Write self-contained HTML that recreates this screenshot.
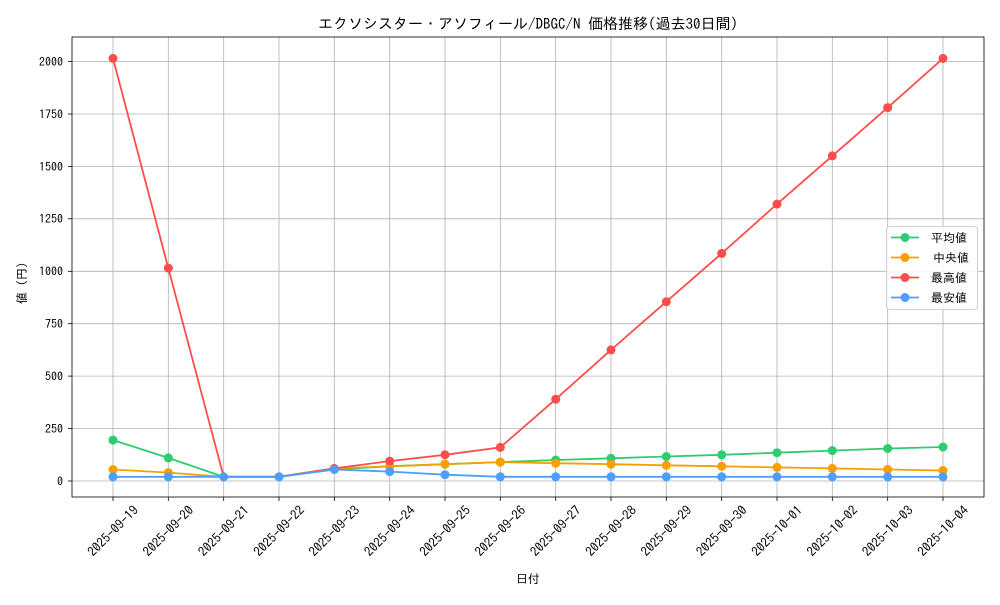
<!DOCTYPE html><html><head><meta charset="utf-8"><style>body{margin:0;background:#fff}svg{font-family:"IPAGothic","Noto Sans CJK JP",sans-serif}</style></head><body>
<svg width="1000" height="600" xmlns="http://www.w3.org/2000/svg">
<rect width="1000" height="600" fill="#fff"/>
<text x="528" y="29" font-size="15" text-anchor="middle">エクソシスター・アソフィール/DBGC/N 価格推移(過去30日間)</text>
<g stroke="#b0b0b0" stroke-width="0.8">
<line x1="113" y1="37" x2="113" y2="497"/><line x1="168.3" y1="37" x2="168.3" y2="497"/><line x1="223.7" y1="37" x2="223.7" y2="497"/><line x1="279" y1="37" x2="279" y2="497"/><line x1="334.3" y1="37" x2="334.3" y2="497"/><line x1="389.7" y1="37" x2="389.7" y2="497"/><line x1="445" y1="37" x2="445" y2="497"/><line x1="500.3" y1="37" x2="500.3" y2="497"/><line x1="555.7" y1="37" x2="555.7" y2="497"/><line x1="611" y1="37" x2="611" y2="497"/><line x1="666.3" y1="37" x2="666.3" y2="497"/><line x1="721.7" y1="37" x2="721.7" y2="497"/><line x1="777" y1="37" x2="777" y2="497"/><line x1="832.3" y1="37" x2="832.3" y2="497"/><line x1="887.7" y1="37" x2="887.7" y2="497"/><line x1="943" y1="37" x2="943" y2="497"/>
<line x1="72" y1="481" x2="984" y2="481"/><line x1="72" y1="428.6" x2="984" y2="428.6"/><line x1="72" y1="376.1" x2="984" y2="376.1"/><line x1="72" y1="323.7" x2="984" y2="323.7"/><line x1="72" y1="271.3" x2="984" y2="271.3"/><line x1="72" y1="218.8" x2="984" y2="218.8"/><line x1="72" y1="166.4" x2="984" y2="166.4"/><line x1="72" y1="114" x2="984" y2="114"/><line x1="72" y1="61.5" x2="984" y2="61.5"/>
</g>
<rect x="72" y="37" width="912" height="460" fill="none" stroke="#000" stroke-width="0.8"/>
<g font-size="12" text-anchor="end">
<text x="63" y="485.5">0</text><text x="63" y="433">250</text><text x="63" y="380.5">500</text><text x="63" y="328">750</text><text x="63" y="275.7">1000</text><text x="63" y="223.2">1250</text><text x="63" y="170.8">1500</text><text x="63" y="118.4">1750</text><text x="63" y="66">2000</text>
</g>
<g stroke="#000" stroke-width="0.8">
<line x1="68" y1="481" x2="72" y2="481"/><line x1="68" y1="428.6" x2="72" y2="428.6"/><line x1="68" y1="376.1" x2="72" y2="376.1"/><line x1="68" y1="323.7" x2="72" y2="323.7"/><line x1="68" y1="271.3" x2="72" y2="271.3"/><line x1="68" y1="218.8" x2="72" y2="218.8"/><line x1="68" y1="166.4" x2="72" y2="166.4"/><line x1="68" y1="114" x2="72" y2="114"/><line x1="68" y1="61.5" x2="72" y2="61.5"/>
<line x1="113" y1="497" x2="113" y2="501"/><line x1="168.3" y1="497" x2="168.3" y2="501"/><line x1="223.7" y1="497" x2="223.7" y2="501"/><line x1="279" y1="497" x2="279" y2="501"/><line x1="334.3" y1="497" x2="334.3" y2="501"/><line x1="389.7" y1="497" x2="389.7" y2="501"/><line x1="445" y1="497" x2="445" y2="501"/><line x1="500.3" y1="497" x2="500.3" y2="501"/><line x1="555.7" y1="497" x2="555.7" y2="501"/><line x1="611" y1="497" x2="611" y2="501"/><line x1="666.3" y1="497" x2="666.3" y2="501"/><line x1="721.7" y1="497" x2="721.7" y2="501"/><line x1="777" y1="497" x2="777" y2="501"/><line x1="832.3" y1="497" x2="832.3" y2="501"/><line x1="887.7" y1="497" x2="887.7" y2="501"/><line x1="943" y1="497" x2="943" y2="501"/>
</g>
<g font-size="13" text-anchor="middle" dominant-baseline="central">
<text transform="translate(113,531) rotate(-45)">2025-09-19</text>
<text transform="translate(168.3,531) rotate(-45)">2025-09-20</text>
<text transform="translate(223.7,531) rotate(-45)">2025-09-21</text>
<text transform="translate(279,531) rotate(-45)">2025-09-22</text>
<text transform="translate(334.3,531) rotate(-45)">2025-09-23</text>
<text transform="translate(389.7,531) rotate(-45)">2025-09-24</text>
<text transform="translate(445,531) rotate(-45)">2025-09-25</text>
<text transform="translate(500.3,531) rotate(-45)">2025-09-26</text>
<text transform="translate(555.7,531) rotate(-45)">2025-09-27</text>
<text transform="translate(611,531) rotate(-45)">2025-09-28</text>
<text transform="translate(666.3,531) rotate(-45)">2025-09-29</text>
<text transform="translate(721.7,531) rotate(-45)">2025-09-30</text>
<text transform="translate(777,531) rotate(-45)">2025-10-01</text>
<text transform="translate(832.3,531) rotate(-45)">2025-10-02</text>
<text transform="translate(887.7,531) rotate(-45)">2025-10-03</text>
<text transform="translate(943,531) rotate(-45)">2025-10-04</text>
</g>
<text x="528" y="583" font-size="12" text-anchor="middle">日付</text>
<text transform="translate(26,283) rotate(-90)" font-size="12" text-anchor="middle">値 (円)</text>
<g fill="none" stroke-width="1.8">
<polyline stroke="#2ecc71" points="113,440.1 168.3,457.9 223.7,476.8 279,476.8 334.3,469.5 389.7,466.3 445,464.2 500.3,462.1 555.7,460 611,458.3 666.3,456.5 721.7,454.8 777,452.7 832.3,450.6 887.7,448.5 943,447"/>
<polyline stroke="#f5a000" points="113,469.5 168.3,472.6 223.7,476.8 279,476.8 334.3,468.4 389.7,466.3 445,464.2 500.3,462.1 555.7,463.2 611,464.2 666.3,465.3 721.7,466.3 777,467.4 832.3,468.4 887.7,469.5 943,470.5"/>
<polyline stroke="#ff4d4d" points="113,58.4 168.3,268.1 223.7,476.8 279,476.8 334.3,468.4 389.7,461.1 445,454.8 500.3,447.4 555.7,399.2 611,349.9 666.3,301.7 721.7,253.4 777,204.1 832.3,155.9 887.7,107.6 943,58.4"/>
<polyline stroke="#4d9eff" points="113,476.8 168.3,476.8 223.7,476.8 279,476.8 334.3,469.5 389.7,471.6 445,474.7 500.3,476.8 555.7,476.8 611,476.8 666.3,476.8 721.7,476.8 777,476.8 832.3,476.8 887.7,476.8 943,476.8"/>
</g>
<g fill="#2ecc71"><circle cx="113" cy="440.1" r="4.5"/><circle cx="168.3" cy="457.9" r="4.5"/><circle cx="389.7" cy="466.3" r="4.5"/><circle cx="445" cy="464.2" r="4.5"/><circle cx="500.3" cy="462.1" r="4.5"/><circle cx="555.7" cy="460" r="4.5"/><circle cx="611" cy="458.3" r="4.5"/><circle cx="666.3" cy="456.5" r="4.5"/><circle cx="721.7" cy="454.8" r="4.5"/><circle cx="777" cy="452.7" r="4.5"/><circle cx="832.3" cy="450.6" r="4.5"/><circle cx="887.7" cy="448.5" r="4.5"/><circle cx="943" cy="447" r="4.5"/></g>
<g fill="#f5a000"><circle cx="113" cy="469.5" r="4.5"/><circle cx="168.3" cy="472.6" r="4.5"/><circle cx="389.7" cy="466.3" r="4.5"/><circle cx="445" cy="464.2" r="4.5"/><circle cx="500.3" cy="462.1" r="4.5"/><circle cx="555.7" cy="463.2" r="4.5"/><circle cx="611" cy="464.2" r="4.5"/><circle cx="666.3" cy="465.3" r="4.5"/><circle cx="721.7" cy="466.3" r="4.5"/><circle cx="777" cy="467.4" r="4.5"/><circle cx="832.3" cy="468.4" r="4.5"/><circle cx="887.7" cy="469.5" r="4.5"/><circle cx="943" cy="470.5" r="4.5"/></g>
<g fill="#ff4d4d"><circle cx="113" cy="58.4" r="4.5"/><circle cx="168.3" cy="268.1" r="4.5"/><circle cx="334.3" cy="468.4" r="4.5"/><circle cx="389.7" cy="461.1" r="4.5"/><circle cx="445" cy="454.8" r="4.5"/><circle cx="500.3" cy="447.4" r="4.5"/><circle cx="555.7" cy="399.2" r="4.5"/><circle cx="611" cy="349.9" r="4.5"/><circle cx="666.3" cy="301.7" r="4.5"/><circle cx="721.7" cy="253.4" r="4.5"/><circle cx="777" cy="204.1" r="4.5"/><circle cx="832.3" cy="155.9" r="4.5"/><circle cx="887.7" cy="107.6" r="4.5"/><circle cx="943" cy="58.4" r="4.5"/></g>
<g fill="#4d9eff"><circle cx="113" cy="476.8" r="4.5"/><circle cx="168.3" cy="476.8" r="4.5"/><circle cx="223.7" cy="476.8" r="4.5"/><circle cx="279" cy="476.8" r="4.5"/><circle cx="334.3" cy="469.5" r="4.5"/><circle cx="389.7" cy="471.6" r="4.5"/><circle cx="445" cy="474.7" r="4.5"/><circle cx="500.3" cy="476.8" r="4.5"/><circle cx="555.7" cy="476.8" r="4.5"/><circle cx="611" cy="476.8" r="4.5"/><circle cx="666.3" cy="476.8" r="4.5"/><circle cx="721.7" cy="476.8" r="4.5"/><circle cx="777" cy="476.8" r="4.5"/><circle cx="832.3" cy="476.8" r="4.5"/><circle cx="887.7" cy="476.8" r="4.5"/><circle cx="943" cy="476.8" r="4.5"/></g>
<rect x="886.5" y="226.5" width="91" height="83" rx="3" fill="#fff" fill-opacity="0.85" stroke="#d0d0d0"/>
<g stroke-width="1.8">
<line x1="891" y1="237.5" x2="919" y2="237.5" stroke="#2ecc71"/><circle cx="905" cy="237.5" r="4.5" fill="#2ecc71"/>
<line x1="891" y1="257.5" x2="919" y2="257.5" stroke="#f5a000"/><circle cx="905" cy="257.5" r="4.5" fill="#f5a000"/>
<line x1="891" y1="277.5" x2="919" y2="277.5" stroke="#ff4d4d"/><circle cx="905" cy="277.5" r="4.5" fill="#ff4d4d"/>
<line x1="891" y1="297.5" x2="919" y2="297.5" stroke="#4d9eff"/><circle cx="905" cy="297.5" r="4.5" fill="#4d9eff"/>
</g>
<g font-size="12"><text x="931" y="242">平均値</text><text x="933" y="262">中央値</text><text x="931" y="282">最高値</text><text x="931" y="302">最安値</text></g>
</svg></body></html>
